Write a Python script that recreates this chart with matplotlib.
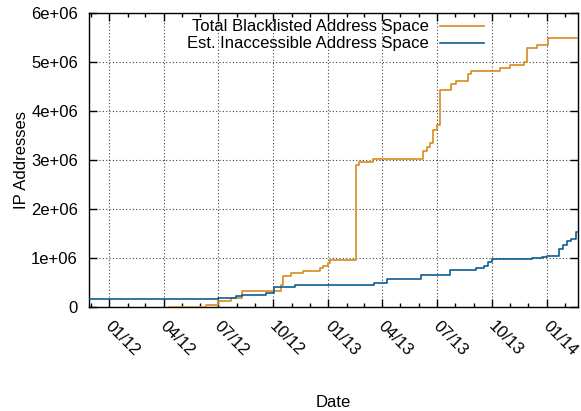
import matplotlib
matplotlib.use("Agg")
import matplotlib.pyplot as plt
import matplotlib.dates as mdates
import matplotlib.transforms as mtransforms
import numpy as np

# ── data (step changes) ─────────────────────────────────────────────────────
total_dates = [
    "2012-04-09", "2012-06-11", "2012-06-30", "2012-07-22", "2012-08-10",
    "2012-10-14", "2012-10-17", "2012-10-30", "2012-11-19", "2012-12-18",
    "2012-12-23", "2012-12-31", "2013-01-04", "2013-02-16", "2013-02-21",
    "2013-03-16", "2013-06-08", "2013-06-15", "2013-06-20", "2013-06-25",
    "2013-07-01", "2013-07-06", "2013-07-24", "2013-08-02", "2013-08-23",
    "2013-08-27", "2013-10-15", "2013-10-31", "2013-11-24", "2013-11-29",
    "2013-12-16", "2014-01-03", "2014-02-22",
]
total_vals = [
    0.0, 0.05e6, 0.12e6, 0.19e6, 0.33e6,
    0.45e6, 0.64e6, 0.69e6, 0.74e6, 0.79e6,
    0.84e6, 0.89e6, 0.95e6, 2.89e6, 2.95e6,
    3.02e6, 3.19e6, 3.26e6, 3.34e6, 3.61e6,
    3.72e6, 4.43e6, 4.55e6, 4.61e6, 4.76e6,
    4.82e6, 4.87e6, 4.94e6, 5.01e6, 5.28e6,
    5.35e6, 5.48e6, 5.48e6,
]

inacc_dates = [
    "2011-11-01", "2012-06-30", "2012-07-30", "2012-08-10", "2012-09-18",
    "2012-10-02", "2012-11-07", "2013-03-19", "2013-04-09", "2013-06-04",
    "2013-07-23", "2013-09-04", "2013-09-18", "2013-09-25", "2013-10-01",
    "2013-12-07", "2013-12-24", "2014-01-01", "2014-01-21", "2014-01-28",
    "2014-02-04", "2014-02-11", "2014-02-19", "2014-02-22",
]
inacc_vals = [
    0.16e6, 0.18e6, 0.23e6, 0.25e6, 0.28e6,
    0.41e6, 0.44e6, 0.48e6, 0.565e6, 0.65e6,
    0.76e6, 0.80e6, 0.84e6, 0.91e6, 0.98e6,
    0.995e6, 1.02e6, 1.05e6, 1.19e6, 1.27e6,
    1.34e6, 1.39e6, 1.54e6, 1.54e6,
]

labels = ["Total Blacklisted Address Space", "Est. Inaccessible Address Space"]
colors = ["#d98a1c", "#0d5d93"]

plt.rcParams["font.family"] = ["Liberation Sans", "DejaVu Sans"]
plt.rcParams["font.size"] = 12

fig = plt.figure(figsize=(5.81, 4.11), dpi=100)
ax = fig.add_axes([89 / 581, 1 - 307 / 411, (578 - 89) / 581, (307 - 13) / 411])

for d, v, lab, c in [(total_dates, total_vals, labels[0], colors[0]),
                     (inacc_dates, inacc_vals, labels[1], colors[1])]:
    ax.step(np.array(d, dtype="datetime64[D]"), v, where="post",
            color=c, lw=1.2, label=lab, zorder=3)

ax.set_xlim(np.datetime64("2011-11-28"), np.datetime64("2014-02-22"))
ax.set_ylim(0, 6e6)
ax.set_yticks(np.arange(0, 7e6, 1e6))
ax.set_yticklabels(["0"] + [f"{i}e+06" for i in range(1, 7)])

ax.xaxis.set_major_locator(mdates.MonthLocator(bymonth=[1, 4, 7, 10]))
ax.xaxis.set_minor_locator(mdates.MonthLocator())
ax.xaxis.set_major_formatter(mdates.DateFormatter("%m/%y"))

ax.tick_params(which="both", direction="in", top=True, right=True)
ax.tick_params(which="major", length=6, width=1)
ax.tick_params(which="minor", length=3, width=1)
ax.tick_params(axis="x", pad=8)
ax.tick_params(axis="y", pad=8)

shift = mtransforms.ScaledTranslation(4 / 100, 0, fig.dpi_scale_trans)
for t in ax.get_xticklabels():
    t.set_rotation(-45)
    t.set_ha("left")
    t.set_va("top")
    t.set_rotation_mode("anchor")
    t.set_transform(t.get_transform() + shift)

ax.grid(True, which="major", ls=(0, (1, 2)), color="#444444", lw=0.8)
for s in ax.spines.values():
    s.set_linewidth(1.0)

ax.set_ylabel("IP Addresses")
ax.yaxis.set_label_coords(-(89 - 22) / 489, 0.5)
ax.set_xlabel("Date")
ax.xaxis.set_label_coords(0.5, -(402 - 307) / 294)
ax.xaxis.label.set_va("center")
ax.yaxis.label.set_va("center")

ax.legend(loc="upper right", bbox_to_anchor=(0.828, 1.012), frameon=False,
          markerfirst=False, handlelength=2.65, handletextpad=0.65,
          labelspacing=0.12, borderaxespad=0.2)

fig.savefig("out.png", dpi=100)
